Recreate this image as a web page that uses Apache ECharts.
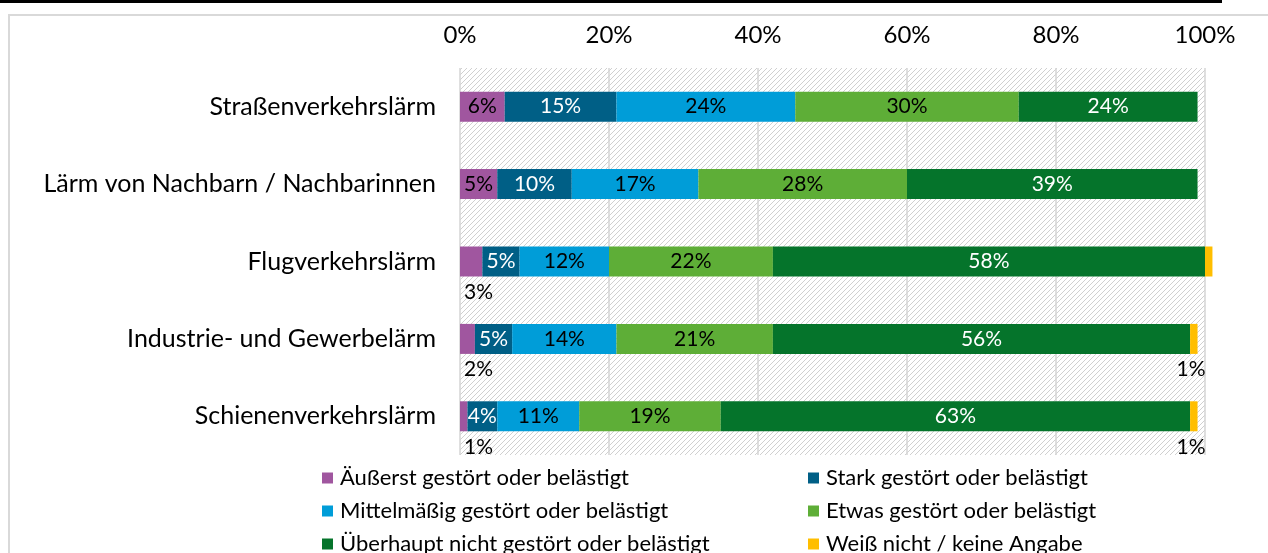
<!DOCTYPE html>
<html>
<head>
<meta charset="utf-8">
<script src="https://cdn.jsdelivr.net/npm/echarts@6/dist/echarts.min.js"></script>
<style>
html,body{margin:0;padding:0;background:#fff;}
#chart{width:1268px;height:553px;}
</style>
</head>
<body>
<div id="chart"></div>
<script>
const categories = ['Straßenverkehrslärm','Lärm von Nachbarn / Nachbarinnen','Flugverkehrslärm','Industrie- und Gewerbelärm','Schienenverkehrslärm'];
const seriesNames = ['Äußerst gestört oder belästigt','Stark gestört oder belästigt','Mittelmäßig gestört oder belästigt','Etwas gestört oder belästigt','Überhaupt nicht gestört oder belästigt','Weiß nicht / keine Angabe'];
const aeusserst = [6, 5, 3, 2, 1];
const stark = [15, 10, 5, 5, 4];
const mittel = [24, 17, 12, 14, 11];
const etwas = [30, 28, 22, 21, 19];
const ueberhaupt = [24, 39, 58, 56, 63];
const weissNicht = [0, 0, 1, 1, 1];
const weissLabelShown = [false, false, false, true, true];
const tickLabels = ['0%','20%','40%','60%','80%','100%'];

const FONT = 'Lato';
const colors = ['#A0569F','#005F86','#009DD8','#5EAE37','#05742B','#FFBE00'];
const labelColors = ['#000','#fff','#000','#000','#fff','#000'];

// hatch pattern
const pc = document.createElement('canvas');
pc.width = 5; pc.height = 5;
const pctx = pc.getContext('2d');
pctx.fillStyle = '#ffffff';
pctx.fillRect(0,0,5,5);
pctx.strokeStyle = '#d0d0d0';
pctx.lineWidth = 1;
pctx.beginPath();
pctx.moveTo(-1,6); pctx.lineTo(6,-1);
pctx.moveTo(-6,6); pctx.lineTo(1,-1);
pctx.moveTo(4,6); pctx.lineTo(11,-1);
pctx.stroke();

function makeData(vals, idx){
  return vals.map((v,i)=>{
    const item = {value: v};
    if (idx === 0 && v < 4) {
      item.label = {position: [4, 35], align: 'left', verticalAlign: 'top', color: '#000'};
    }
    if (idx === 5) {
      item.label = {show: weissLabelShown[i] && v > 0, position: ['100%', 35], align: 'right', verticalAlign: 'top', offset: [8, 0], color: '#000'};
    }
    return item;
  });
}

const allVals = [aeusserst, stark, mittel, etwas, ueberhaupt, weissNicht];
const series = allVals.map((vals, idx)=>({
  name: seriesNames[idx],
  type: 'bar',
  stack: 'total',
  barWidth: 30,
  clip: false,
  itemStyle: {color: colors[idx]},
  label: {
    show: true,
    position: 'inside',
    color: labelColors[idx],
    fontFamily: FONT,
    fontSize: 21,
    formatter: p => (p.value > 0 ? p.value + '%' : '')
  },
  data: makeData(vals, idx)
}));

const legendCommon = {
  orient: 'vertical', top: 467, height: 100, padding: 0,
  itemWidth: 11, itemHeight: 11, itemGap: 11, icon: 'rect',
  textStyle: {fontFamily: FONT, fontSize: 22, color: '#000', lineHeight: 22, padding: [0,0,0,2]}
};

const chart = echarts.init(document.getElementById('chart'));
chart.setOption({
  animation: false,
  backgroundColor: '#fff',
  textStyle: {fontFamily: FONT},
  graphic: [
    {type: 'rect', shape: {x: 0, y: 0, width: 1222, height: 3}, style: {fill: '#000'}, z: 10},
    {type: 'rect', shape: {x: 9, y: 15, width: 1300, height: 600}, style: {fill: 'none', stroke: '#d9d9d9', lineWidth: 2}, z: -1}
  ],
  grid: {
    left: 460, right: 63, top: 68, bottom: 98,
    show: true,
    borderWidth: 0,
    backgroundColor: {image: pc, repeat: 'repeat'}
  },
  legend: [
    Object.assign({}, legendCommon, {data: [seriesNames[0], seriesNames[2], seriesNames[4]], left: 322}),
    Object.assign({}, legendCommon, {data: [seriesNames[1], seriesNames[3], seriesNames[5]], left: 808})
  ],
  xAxis: {
    type: 'value', position: 'top', min: 0, max: 100, interval: 20,
    axisLine: {show: false}, axisTick: {show: false},
    splitLine: {show: true, lineStyle: {color: '#d4d4d4', width: 1.5}},
    axisLabel: {
      fontFamily: FONT, fontSize: 24, color: '#000', margin: 21,
      formatter: v => tickLabels[Math.round(v / 20)]
    }
  },
  yAxis: {
    type: 'category', inverse: true, data: categories,
    axisLine: {show: false}, axisTick: {show: false},
    axisLabel: {fontFamily: FONT, fontSize: 25, color: '#000', margin: 24}
  },
  series: series
});
</script>
</body>
</html>
